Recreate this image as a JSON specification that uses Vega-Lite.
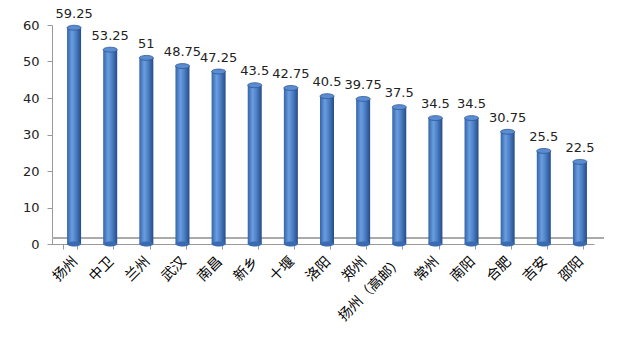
{
  "$schema": "https://vega.github.io/schema/vega-lite/v6.json",
  "width": 542,
  "height": 219,
  "autosize": {"type": "none"},
  "padding": {"left": 52, "top": 25, "right": 36, "bottom": 101},
  "background": "white",
  "config": {"view": {"stroke": null}},
  "data": {
    "values": [
      {"city": "扬州", "v": 59.25, "label": "59.25"},
      {"city": "中卫", "v": 53.25, "label": "53.25"},
      {"city": "兰州", "v": 51, "label": "51"},
      {"city": "武汉", "v": 48.75, "label": "48.75"},
      {"city": "南昌", "v": 47.25, "label": "47.25"},
      {"city": "新乡", "v": 43.5, "label": "43.5"},
      {"city": "十堰", "v": 42.75, "label": "42.75"},
      {"city": "洛阳", "v": 40.5, "label": "40.5"},
      {"city": "郑州", "v": 39.75, "label": "39.75"},
      {"city": "扬州（高邮）", "v": 37.5, "label": "37.5"},
      {"city": "常州", "v": 34.5, "label": "34.5"},
      {"city": "南阳", "v": 34.5, "label": "34.5"},
      {"city": "合肥", "v": 30.75, "label": "30.75"},
      {"city": "吉安", "v": 25.5, "label": "25.5"},
      {"city": "邵阳", "v": 22.5, "label": "22.5"}
    ]
  },
  "encoding": {
    "x": {
      "field": "city", "type": "nominal", "sort": null,
      "scale": {"paddingInner": 0.6, "paddingOuter": 0.3},
      "axis": {
        "title": null, "labelAngle": -45, "tickBand": "extent",
        "domainColor": "#999999", "tickColor": "#999999", "tickSize": 5,
        "labelFont": "Noto Sans CJK SC", "labelFontSize": 14, "labelColor": "#000000",
        "labelPadding": 5
      }
    },
    "y": {
      "field": "v", "type": "quantitative",
      "scale": {"domain": [0, 60]},
      "axis": {
        "title": null, "values": [0, 10, 20, 30, 40, 50, 60], "grid": false,
        "domainColor": "#999999", "tickColor": "#999999", "tickSize": 5,
        "labelFont": "DejaVu Sans", "labelFontSize": 13, "labelColor": "#222222",
        "labelPadding": 8
      }
    }
  },
  "layer": [
    {
      "mark": {"type": "rule", "color": "#aaaaaa", "strokeWidth": 1, "xOffset": 10, "yOffset": -6},
      "encoding": {"y": {"datum": 0}, "x": {}}
    },
    {
      "mark": {
        "type": "bar", "size": 14, "xOffset": 4,
        "color": {
          "gradient": "linear", "x1": 0, "x2": 1, "y1": 0, "y2": 0,
          "stops": [
            {"offset": 0, "color": "#3464a8"},
            {"offset": 0.35, "color": "#6a9de0"},
            {"offset": 0.6, "color": "#4f83c9"},
            {"offset": 1, "color": "#254c88"}
          ]
        }
      }
    },
    {
      "mark": {
        "type": "point", "filled": true, "size": 196, "xOffset": 4,
        "shape": "M-1,0A1,0.35,0,1,1,1,0A1,0.35,0,1,1,-1,0Z",
        "color": "#3a6bb0", "opacity": 1
      },
      "encoding": {"y": {"datum": 0}}
    },
    {
      "mark": {
        "type": "point", "filled": true, "size": 196, "xOffset": 4,
        "shape": "M-1,0A1,0.35,0,1,1,1,0A1,0.35,0,1,1,-1,0Z",
        "color": "#5b8cd0", "stroke": "#2d5798", "strokeWidth": 0.8, "opacity": 1
      }
    },
    {
      "mark": {
        "type": "text", "dy": -14, "xOffset": 4, "font": "DejaVu Sans", "fontSize": 13, "color": "#222222"
      },
      "encoding": {"text": {"field": "label"}}
    }
  ]
}
